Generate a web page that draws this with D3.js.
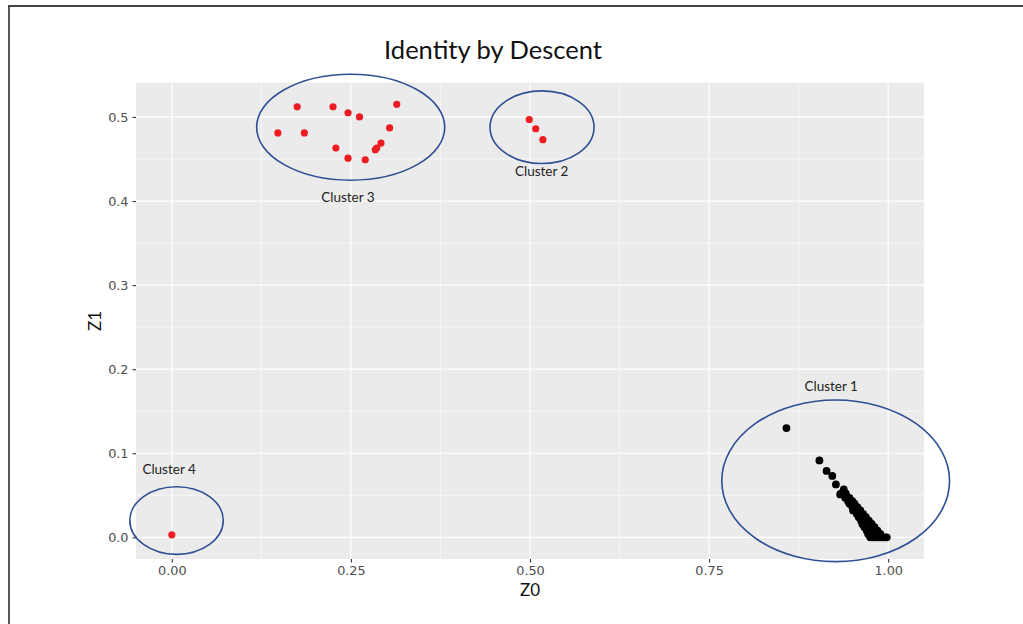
<!DOCTYPE html>
<html>
<head>
<meta charset="utf-8">
<script src="https://cdn.jsdelivr.net/npm/d3@7"></script>
<style>
  html, body { margin: 0; padding: 0; background: #fff; }
  svg { display: block; }
</style>
</head>
<body>
<svg id="chart" width="1023" height="624"></svg>
<script>
// ---------- DATA ----------
const title = "Identity by Descent";
const xLabel = "Z0";
const yLabel = "Z1";
const xTicks = [0, 0.25, 0.5, 0.75, 1.0];
const xTickLabels = ["0.00", "0.25", "0.50", "0.75", "1.00"];
const xMinor = [0.125, 0.375, 0.625, 0.875];
const yTicks = [0, 0.1, 0.2, 0.3, 0.4, 0.5];
const yTickLabels = ["0.0", "0.1", "0.2", "0.3", "0.4", "0.5"];
const yMinor = [0.05, 0.15, 0.25, 0.35, 0.45];
const xDomain = [-0.05, 1.05];
const yDomain = [-0.02575, 0.54075];

// red points (clusters 2, 3, 4): [Z0, Z1]
const redPoints = [
  [0.175, 0.512], [0.225, 0.512], [0.246, 0.505], [0.262, 0.500], [0.314, 0.515],
  [0.148, 0.481], [0.185, 0.481], [0.304, 0.487], [0.292, 0.469], [0.284, 0.461],
  [0.286, 0.463], [0.229, 0.463], [0.246, 0.451], [0.270, 0.449],
  [0.499, 0.497], [0.508, 0.486], [0.518, 0.473],
  [0.000, 0.003]
];

// black points (cluster 1): [Z0, Z1]
const blackPoints = [
  [0.858, 0.130], [0.904, 0.0915], [0.914, 0.079], [0.922, 0.073], [0.927, 0.063],
  [0.933, 0.051], [0.938, 0.057],
  [0.934, 0.052], [0.941, 0.052],
  [0.940, 0.047], [0.946, 0.047],
  [0.944, 0.043], [0.950, 0.043],
  [0.946, 0.040], [0.953, 0.040],
  [0.950, 0.036], [0.957, 0.036],
  [0.951, 0.032], [0.955, 0.032], [0.961, 0.032],
  [0.956, 0.028], [0.960, 0.028], [0.965, 0.028],
  [0.959, 0.024], [0.963, 0.024], [0.969, 0.024],
  [0.962, 0.020], [0.966, 0.020], [0.970, 0.020], [0.973, 0.020],
  [0.964, 0.016], [0.968, 0.016], [0.972, 0.016], [0.977, 0.016],
  [0.967, 0.012], [0.971, 0.012], [0.975, 0.012], [0.981, 0.012],
  [0.970, 0.008], [0.974, 0.008], [0.978, 0.008], [0.982, 0.008], [0.985, 0.008],
  [0.972, 0.004], [0.976, 0.004], [0.980, 0.004], [0.984, 0.004], [0.989, 0.004],
  [0.975, 0.000], [0.979, 0.000], [0.983, 0.000], [0.987, 0.000], [0.991, 0.000],
  [0.995, 0.000], [0.998, 0.000]
];

// cluster annotations: ellipse centre and radii in data units, label position
const clusterNames = ["Cluster 1", "Cluster 2", "Cluster 3", "Cluster 4"];
const ellipseCx = [0.9267, 0.5168, 0.2497, 0.0066];
const ellipseCy = [0.0672, 0.4878, 0.4878, 0.0200];
const ellipseRx = [0.1590, 0.0726, 0.1313, 0.0652];
const ellipseRy = [0.0961, 0.0432, 0.0630, 0.0402];
const labelX = [0.9204, 0.5163, 0.2458, -0.0038];
const labelY = [0.1802, 0.4358, 0.4050, 0.0808];

// ---------- DRAW ----------
const svg = d3.select("#chart");
const W = 1023, H = 624;
const panel = { left: 136, right: 924, top: 82.7, bottom: 559 };

const x = d3.scaleLinear().domain(xDomain).range([panel.left, panel.right]);
const y = d3.scaleLinear().domain(yDomain).range([panel.bottom, panel.top]);

svg.append("rect").attr("width", W).attr("height", H).attr("fill", "#fff");

// outer frame (top + left)
svg.append("line").attr("x1", 8).attr("x2", W).attr("y1", 6).attr("y2", 6)
  .attr("stroke", "#444").attr("stroke-width", 1.8);
svg.append("line").attr("x1", 9).attr("x2", 9).attr("y1", 5).attr("y2", H)
  .attr("stroke", "#444").attr("stroke-width", 1.8);

// panel
svg.append("rect")
  .attr("x", panel.left).attr("y", panel.top)
  .attr("width", panel.right - panel.left).attr("height", panel.bottom - panel.top)
  .attr("fill", "#EBEBEB");

const grid = svg.append("g");
grid.selectAll(".xminor").data(xMinor).join("line")
  .attr("x1", d => x(d)).attr("x2", d => x(d))
  .attr("y1", panel.top).attr("y2", panel.bottom)
  .attr("stroke", "#fff").attr("stroke-width", 0.6);
grid.selectAll(".yminor").data(yMinor).join("line")
  .attr("y1", d => y(d)).attr("y2", d => y(d))
  .attr("x1", panel.left).attr("x2", panel.right)
  .attr("stroke", "#fff").attr("stroke-width", 0.6);
grid.selectAll(".xmajor").data(xTicks).join("line")
  .attr("x1", d => x(d)).attr("x2", d => x(d))
  .attr("y1", panel.top).attr("y2", panel.bottom)
  .attr("stroke", "#fff").attr("stroke-width", 1.2);
grid.selectAll(".ymajor").data(yTicks).join("line")
  .attr("y1", d => y(d)).attr("y2", d => y(d))
  .attr("x1", panel.left).attr("x2", panel.right)
  .attr("stroke", "#fff").attr("stroke-width", 1.2);

// axes
const xAxis = d3.axisBottom(x).tickValues(xTicks)
  .tickFormat((d, i) => xTickLabels[i]).tickSize(3.5).tickPadding(3);
const yAxis = d3.axisLeft(y).tickValues(yTicks)
  .tickFormat((d, i) => yTickLabels[i]).tickSize(3.5).tickPadding(4);

const gx = svg.append("g").attr("transform", `translate(0,${panel.bottom})`).call(xAxis);
const gy = svg.append("g").attr("transform", `translate(${panel.left},0)`).call(yAxis);
[gx, gy].forEach(g => {
  g.select(".domain").remove();
  g.selectAll(".tick line").attr("stroke", "#333").attr("stroke-width", 1.1);
  g.selectAll(".tick text").attr("fill", "#4D4D4D")
    .style("font-family", "'DejaVu Sans', Verdana, sans-serif").style("font-size", "12.8px");
});

// points
svg.append("g").selectAll("circle").data(blackPoints).join("circle")
  .attr("cx", d => x(d[0])).attr("cy", d => y(d[1])).attr("r", 3.9).attr("fill", "#000");
svg.append("g").selectAll("circle").data(redPoints).join("circle")
  .attr("cx", d => x(d[0])).attr("cy", d => y(d[1])).attr("r", 3.6).attr("fill", "#EE1D23");

// ellipses
svg.append("g").selectAll("ellipse").data(clusterNames).join("ellipse")
  .attr("cx", (d, i) => x(ellipseCx[i]))
  .attr("cy", (d, i) => y(ellipseCy[i]))
  .attr("rx", (d, i) => x(ellipseRx[i]) - x(0))
  .attr("ry", (d, i) => y(0) - y(ellipseRy[i]))
  .attr("fill", "none").attr("stroke", "#2F4F94").attr("stroke-width", 1.6);

// cluster labels
svg.append("g").selectAll("text").data(clusterNames).join("text")
  .attr("x", (d, i) => x(labelX[i]))
  .attr("y", (d, i) => y(labelY[i]))
  .attr("dy", "0.35em")
  .attr("text-anchor", "middle")
  .style("font-family", "Lato, 'Open Sans', sans-serif").style("font-size", "13.5px")
  .attr("fill", "#222")
  .text(d => d);

// title and axis titles
svg.append("text").attr("x", 493).attr("y", 59).attr("text-anchor", "middle")
  .style("font-family", "Lato, 'Open Sans', sans-serif").style("font-size", "25.5px")
  .attr("fill", "#111").text(title);
svg.append("text").attr("x", x(0.5)).attr("y", 596).attr("text-anchor", "middle")
  .style("font-family", "Lato, 'Open Sans', sans-serif").style("font-size", "17px")
  .attr("fill", "#111").text(xLabel);
svg.append("text").attr("transform", `translate(101,${(panel.top + panel.bottom) / 2}) rotate(-90)`)
  .attr("text-anchor", "middle")
  .style("font-family", "Lato, 'Open Sans', sans-serif").style("font-size", "17px")
  .attr("fill", "#111").text(yLabel);
</script>
</body>
</html>
